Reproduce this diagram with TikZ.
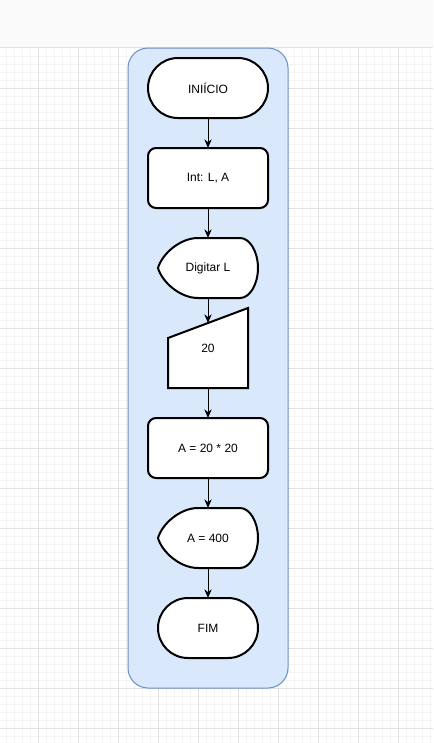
\documentclass[tikz,border=0pt]{standalone}
\usepackage{fontspec}
\setmainfont{Liberation Sans}
\usetikzlibrary{arrows.meta,positioning}
\definecolor{lanefill}{HTML}{DAE8FC}
\definecolor{laneline}{HTML}{6C8EBF}
\definecolor{gridminor}{HTML}{F4F4F4}
\definecolor{gridmajor}{HTML}{E2E2E2}
\definecolor{topband}{HTML}{FAFAFA}
% display shape around a centre, in px
\newcommand{\dispshape}[1]{%
  \draw[shapeline,fill=white,shift={(#1)}] (-50,0) .. controls (-46,-14) and (-28,-30) .. (-10,-30)
    -- (32,-30) .. controls (42,-30) and (50,-16) .. (50,0)
    .. controls (50,16) and (42,30) .. (32,30) -- (-10,30)
    .. controls (-28,30) and (-46,14) .. (-50,0) -- cycle;}
\begin{document}
\begin{tikzpicture}[x=0.75pt,y=-0.75pt,
  every node/.style={font=\fontsize{9}{11}\selectfont,outer sep=0pt,inner sep=0pt},
  shapeline/.style={draw=black,line width=1.5pt},
  term/.style={shapeline,fill=white,minimum height=45pt,rounded corners=22.5pt},
  procbox/.style={shapeline,fill=white,minimum width=90pt,minimum height=45pt,rounded corners=6pt},
  flow/.style={-{Stealth[length=6.5pt,width=5.5pt]},line width=0.75pt}]
\useasboundingbox (0,0) rectangle (433,743);
% background grid
\fill[white] (0,47) rectangle (433,743);
\foreach \x in {6,14,...,430} \draw[gridminor,line width=0.75pt] (\x,47) -- (\x,743);
\foreach \y in {56,64,...,743} \draw[gridminor,line width=0.75pt] (0,\y) -- (433,\y);
\foreach \x in {38,78,...,398} \draw[gridmajor,line width=0.75pt] (\x,47) -- (\x,743);
\foreach \y in {88,128,...,728} \draw[gridmajor,line width=0.75pt] (0,\y) -- (433,\y);
\fill[topband] (0,0) rectangle (433,47);
\draw[gridmajor,line width=0.75pt] (0,47.5) -- (433,47.5);
% lane
\draw[laneline,fill=lanefill,line width=0.75pt,rounded corners=15pt] (128,48) rectangle (288,688);
% steps
\node[term,minimum width=90pt] (inicio) at (208,88) {INIÍCIO};
\node[procbox] (vars) at (208,178) {Int: L, A};
\dispshape{208,268}
\node[minimum width=75pt,minimum height=45pt] (digl) at (208,268) {Digitar L};
\draw[shapeline,fill=white] (168,338) -- (248,308) -- (248,388) -- (168,388) -- cycle;
\node[minimum width=60pt,minimum height=60pt] (in20) at (208,348) {20};
\coordinate (in20top) at (208,323);
\node[procbox] (calc) at (208,448) {A = 20 * 20};
\dispshape{208,538}
\node[minimum width=75pt,minimum height=45pt] (outa) at (208,538) {A = 400};
\node[term,minimum width=75pt] (fim) at (208,628) {FIM};
% arrows
\draw[flow] (inicio) -- (vars);
\draw[flow] (vars) -- (digl);
\draw[flow] (digl) -- (in20top);
\draw[flow] (in20) -- (calc);
\draw[flow] (calc) -- (outa);
\draw[flow] (outa) -- (fim);
\end{tikzpicture}
\end{document}
